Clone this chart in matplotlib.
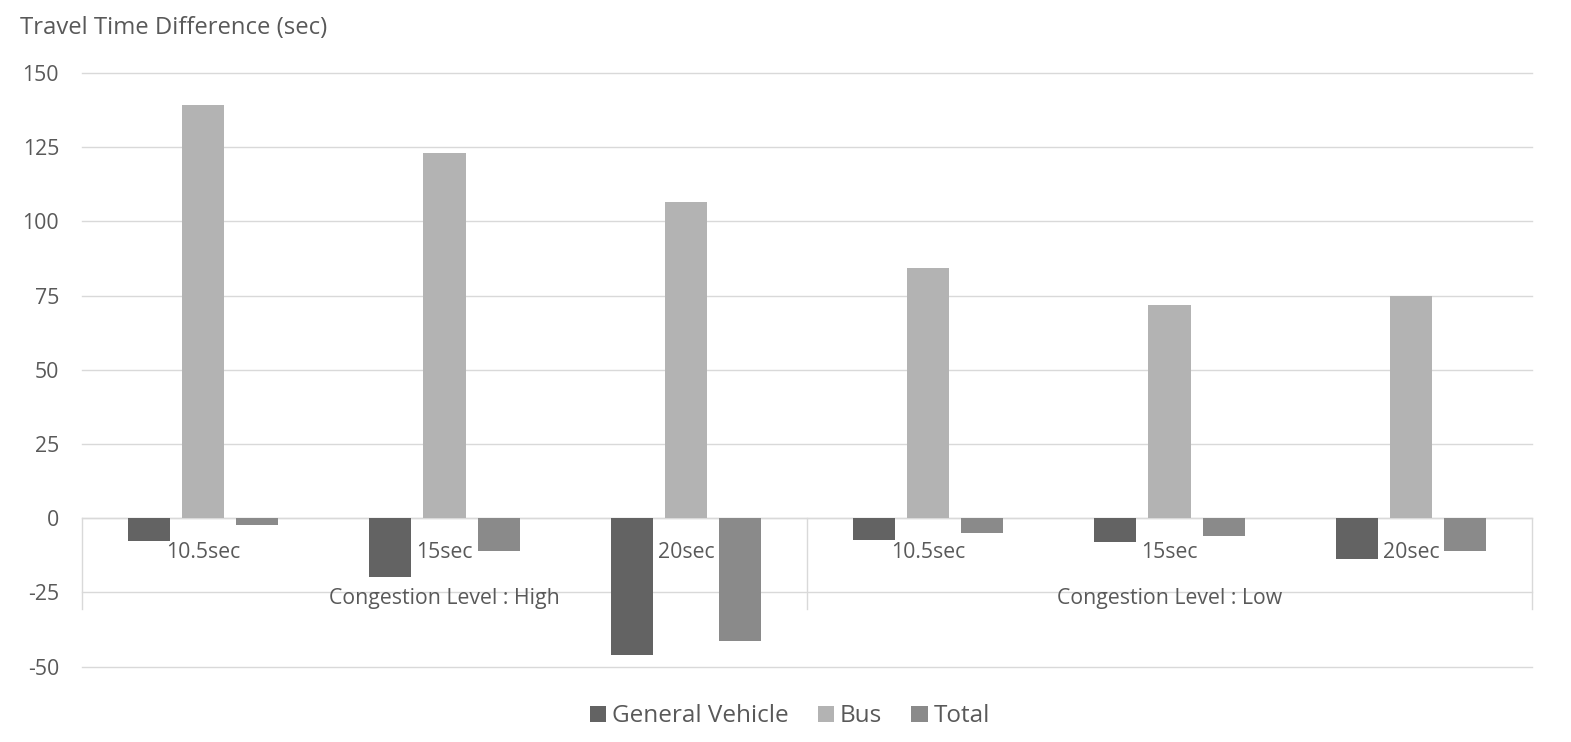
import matplotlib
matplotlib.use("Agg")
import matplotlib.pyplot as plt
import numpy as np
from matplotlib.patches import Patch

plt.rcParams['font.family'] = ['Open Sans', 'DejaVu Sans']

# ---- data ----
signal_labels = ["10.5sec", "15sec", "20sec", "10.5sec", "15sec", "20sec"]
congestion_labels = ["Congestion Level : High", "Congestion Level : Low"]
series_names = ["General Vehicle", "Bus", "Total"]
general_vehicle = [-7.6, -19.7, -46.1, -7.3, -8.1, -13.6]
bus = [139.3, 123.1, 106.6, 84.4, 72.0, 75.0]
total = [-2.1, -11.1, -41.5, -4.9, -6.1, -11.1]
y_ticks = [-50, -25, 0, 25, 50, 75, 100, 125, 150]

colors = ["#636363", "#b3b3b3", "#8a8a8a"]
text_color = "#595959"
grid_color = "#d9d9d9"

fig = plt.figure(figsize=(15.71, 7.42), dpi=100)
ax = fig.add_axes([82/1571, 1-666.7/742, 1450/1571, 593.7/742])

x = np.arange(len(signal_labels))
width = 0.174
step = 0.224
for i, (vals, c) in enumerate(zip([general_vehicle, bus, total], colors)):
    ax.bar(x + (i-1)*step, vals, width, color=c, zorder=3, label=series_names[i])

ax.set_xlim(-0.5, len(signal_labels)-0.5)
ax.set_ylim(-50, 150)
ax.set_yticks(y_ticks)
ax.set_yticklabels([str(v) for v in y_ticks])
ax.tick_params(axis='y', length=0, pad=16.5, labelsize=15.3, labelcolor=text_color)
ax.tick_params(axis='x', length=0, labelbottom=False)
for s in ax.spines.values():
    s.set_visible(False)
ax.grid(axis='y', color=grid_color, linewidth=1, zorder=0)
ax.set_axisbelow(True)
for gl in ax.get_ygridlines():
    gl.set_clip_on(False)

# zero/category axis line and separators
ax.axhline(0, color=grid_color, linewidth=1, zorder=2)
for xs in [-0.5, 2.5, 5.5]:
    ax.plot([xs, xs], [0, -30.6], color=grid_color, linewidth=1, zorder=2, clip_on=False)

for xi, lab in zip(x, signal_labels):
    ax.text(xi, -11.6, lab, ha='center', va='center', fontsize=15.3, color=text_color, zorder=4)
for gi, lab in enumerate(congestion_labels):
    ax.text(gi*3 + 1, -26.9, lab, ha='center', va='center', fontsize=15.3, color=text_color, zorder=4)

fig.text(20/1571, 1-28.5/742, "Travel Time Difference (sec)", ha='left', va='center',
         fontsize=17.2, color=text_color)

handles = [Patch(facecolor=c, edgecolor='none') for c in colors]
leg = fig.legend(handles, series_names, loc='center', bbox_to_anchor=(790/1571, 1-716.5/742),
                 ncol=3, frameon=False, fontsize=17.5, handlelength=0.66, handleheight=0.66,
                 handletextpad=0.25, columnspacing=1.2, labelcolor=text_color)

fig.savefig("out.png", dpi=100)
